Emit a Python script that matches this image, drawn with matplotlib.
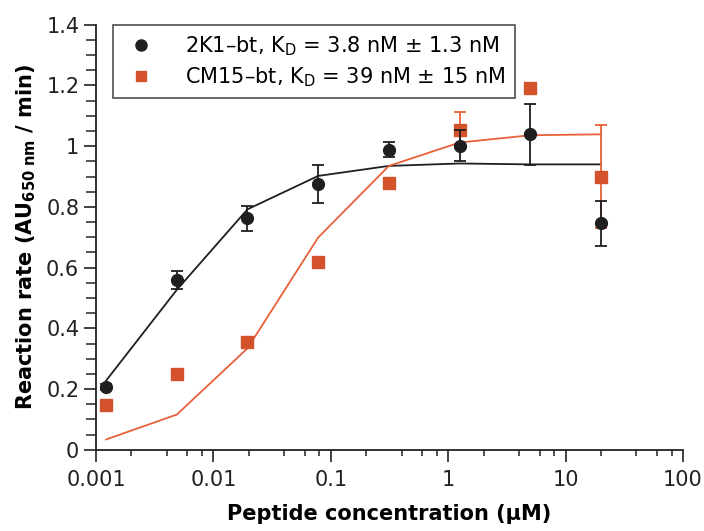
import matplotlib
matplotlib.use("Agg")
import matplotlib.pyplot as plt
from matplotlib.lines import Line2D
from matplotlib.ticker import FixedLocator, FuncFormatter, MultipleLocator, NullFormatter

# Data (peptide concentration in µM)
conc = [0.00122, 0.00488, 0.0195, 0.078, 0.3125, 1.25, 5.0, 20.0]

k1_rate = [0.208, 0.558, 0.762, 0.875, 0.988, 1.002, 1.039, 0.746]
k1_err = [0.01, 0.03, 0.04, 0.063, 0.025, 0.05, 0.10, 0.075]
k1_fit = [0.228, 0.527, 0.792, 0.902, 0.935, 0.943, 0.940, 0.940]

cm_rate = [0.146, 0.248, 0.354, 0.618, 0.879, 1.054, 1.190, 0.900]
cm_err = [0.0, 0.0, 0.0, 0.0, 0.0, 0.06, 0.0, 0.17]
cm_fit = [0.034, 0.116, 0.334, 0.699, 0.935, 1.012, 1.036, 1.039]

labels = [r"2K1–bt, K$_\mathregular{D}$ = 3.8 nM ± 1.3 nM",
          r"CM15–bt, K$_\mathregular{D}$ = 39 nM ± 15 nM"]

black = "#1f1f1f"
orange = "#d4522b"
orange_line = "#e8613a"

plt.rcParams["font.family"] = ["DejaVu Sans"]
plt.rcParams["mathtext.default"] = "regular"
fs = 15

fig = plt.figure(figsize=(7.04, 5.31), dpi=100)
ax = fig.add_axes([0.1364, 0.153, 0.8338, 0.8004])

ax.plot(conc, k1_fit, color=black, lw=1.3, zorder=2)
ax.plot(conc, cm_fit, color=orange_line, lw=1.3, zorder=2)

ax.errorbar(conc, cm_rate, yerr=cm_err, fmt="s", color=orange, ms=8,
            ecolor=orange_line, elinewidth=1.3, capsize=4.3, capthick=1.3, zorder=3)
ax.errorbar(conc, k1_rate, yerr=k1_err, fmt="o", color=black, ms=8.5,
            ecolor=black, elinewidth=1.3, capsize=4.3, capthick=1.3, zorder=4)

ax.set_xscale("log")
ax.set_xlim(0.001, 100)
ax.set_ylim(0, 1.4)

ax.xaxis.set_major_locator(FixedLocator([0.001, 0.01, 0.1, 1, 10, 100]))
ax.xaxis.set_major_formatter(FuncFormatter(lambda v, p: "%g" % v))
minors = [m * 10.0 ** e for e in range(-3, 2) for m in (2, 4, 6, 8)]
ax.xaxis.set_minor_locator(FixedLocator(minors))
ax.xaxis.set_minor_formatter(NullFormatter())
ax.yaxis.set_major_locator(MultipleLocator(0.2))
ax.yaxis.set_minor_locator(MultipleLocator(0.05))
ax.yaxis.set_major_formatter(FuncFormatter(lambda v, p: "%g" % round(v, 2)))

for s in ("top", "right"):
    ax.spines[s].set_visible(False)
for s in ("left", "bottom"):
    ax.spines[s].set_linewidth(1.3)
    ax.spines[s].set_color("#222222")

ax.tick_params(which="major", direction="out", length=8.5, width=1.2,
               labelsize=fs, colors="#222222")
ax.tick_params(axis="x", which="major", pad=6)
ax.tick_params(axis="y", which="minor", direction="out", length=7, width=1.1, colors="#222222")
ax.tick_params(axis="x", which="minor", direction="out", length=4.5, width=1.1, colors="#222222")

ax.set_xlabel("Peptide concentration (µM)", fontsize=fs, fontweight="bold", labelpad=10)
ax.set_ylabel(r"Reaction rate (AU$_{\mathbf{650\ nm}}$ / min)", fontsize=fs,
              fontweight="bold", labelpad=6)

handles = [Line2D([], [], marker="o", color=black, ls="none", ms=8),
           Line2D([], [], marker="s", color=orange, ls="none", ms=7.5)]
leg = ax.legend(handles, labels, loc="upper left", bbox_to_anchor=(0.029, 1.0),
                fontsize=fs, frameon=True, fancybox=False, borderpad=0.45,
                labelspacing=0.35, handletextpad=1.2, handlelength=1.8,
                borderaxespad=0)
leg.get_frame().set_edgecolor("#222222")
leg.get_frame().set_linewidth(1.2)

fig.savefig("out.png", dpi=100)
